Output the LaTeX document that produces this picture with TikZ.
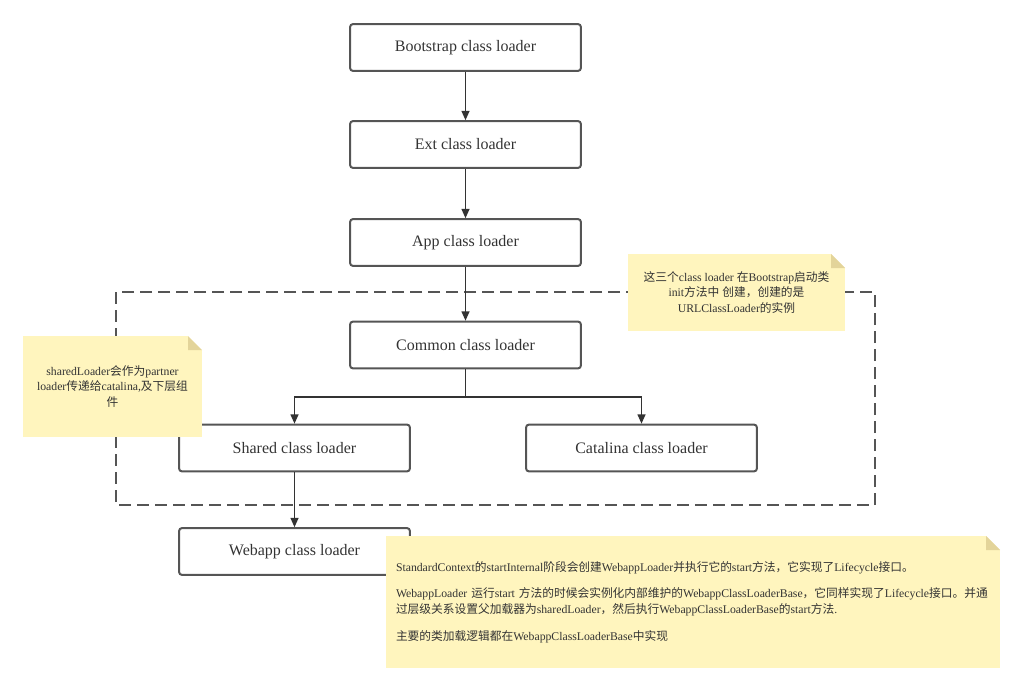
\documentclass[tikz,border=0pt]{standalone}
\usepackage{fontspec}
\setmainfont{Liberation Serif}
\newfontfamily\latin{Liberation Serif}
\newfontfamily\cjk{Noto Sans CJK SC}
\usepackage{tikz}
\usetikzlibrary{arrows.meta}

%% switch to the CJK font for Chinese characters
\XeTeXinterchartokenstate=1
\newXeTeXintercharclass\cjkcls
\count255="3000
\loop \XeTeXcharclass\count255=\cjkcls \ifnum\count255<"303F \advance\count255 by 1 \repeat
\count255="4E00
\loop \XeTeXcharclass\count255=\cjkcls \ifnum\count255<"9FFF \advance\count255 by 1 \repeat
\count255="FF00
\loop \XeTeXcharclass\count255=\cjkcls \ifnum\count255<"FFEF \advance\count255 by 1 \repeat
\XeTeXinterchartoks 0 \cjkcls = {\cjk}
\XeTeXinterchartoks 4095 \cjkcls = {\cjk}
\XeTeXinterchartoks \cjkcls 0 = {\latin}
\XeTeXinterchartoks \cjkcls 4095 = {\latin}

\definecolor{linegray}{HTML}{555555}
\definecolor{arrowgray}{HTML}{333333}
\definecolor{textgray}{HTML}{333333}
\definecolor{notebg}{HTML}{FFF5BE}
\definecolor{notefold}{HTML}{E3D49A}

\tikzstyle{loader} = [rectangle, draw=linegray, line width=1.5pt, rounded corners=2pt, minimum width=173pt, minimum height=35pt, text=textgray, font=\fontsize{12}{14}\selectfont]
\tikzstyle{link} = [draw=arrowgray, line width=1pt, -{Triangle[length=7pt,width=6pt]}]
\tikzstyle{group} = [draw=linegray, line width=1.5pt, dash pattern=on 9pt off 4.5pt]
\tikzstyle{note} = [rectangle, fill=notebg, inner sep=7.5pt, align=center, text=textgray, font=\fontsize{8.8}{11.5}\selectfont,
    path picture={
        \fill[white] ([xshift=-10.5pt]path picture bounding box.north east) -- (path picture bounding box.north east) -- ([yshift=-10.5pt]path picture bounding box.north east) -- cycle;
        \fill[notefold] ([xshift=-10.5pt]path picture bounding box.north east) -- ([xshift=-10.5pt,yshift=-10.5pt]path picture bounding box.north east) -- ([yshift=-10.5pt]path picture bounding box.north east) -- cycle;
    }]

\begin{document}
\begin{tikzpicture}[x=0.75pt, y=-0.75pt]

            \useasboundingbox (0,0) rectangle (1024,692);

            %% dashed group
            \draw [group] (116,292) rectangle (875,505);

            %% class loaders
            \node (boot) [loader] at (465.5,47.5) {Bootstrap class loader};
            \node (ext) [loader] at (465.5,144.5) {Ext class loader};
            \node (app) [loader] at (465.5,242.5) {App class loader};
            \node (common) [loader] at (465.5,345) {Common class loader};
            \node (shared) [loader] at (294.5,448) {Shared class loader};
            \node (catalina) [loader] at (641.5,448) {Catalina class loader};
            \node (webapp) [loader] at (294.5,551.5) {Webapp class loader};

            \coordinate (split) at (465.5,397);

            \draw [link] (boot) -- (ext);
            \draw [link] (ext) -- (app);
            \draw [link] (app) -- (common);
            \draw [link] (common) -- (split) -| (shared);
            \draw [link] (split) -| (catalina);
            \draw [link] (shared) -- (webapp);

            %% notes
            \node (note1) [note, minimum width=162.75pt, minimum height=57.75pt] at (736.5,292.5)
                {这三个class loader 在Bootstrap启动类\\init方法中 创建，创建的是\\URLClassLoader的实例};
            \node (note2) [note, minimum width=134.25pt, minimum height=75.75pt] at (112.5,386.5)
                {sharedLoader会作为partner\\loader传递给catalina,及下层组\\件};
            \node (note3) [note, minimum width=460.5pt, minimum height=99pt, inner sep=0pt, text width=445.5pt, align=left, font=\fontsize{8.8}{12}\selectfont] at (693,602)
                {StandardContext的startInternal阶段会创建WebappLoader并执行它的start方法，它实现了Lifecycle接口。\\[8pt]
                WebappLoader 运行start 方法的时候会实例化内部维护的WebappClassLoaderBase，它同样实现了Lifecycle接口。并通\\
                过层级关系设置父加载器为sharedLoader，然后执行WebappClassLoaderBase的start方法.\\[8pt]
                主要的类加载逻辑都在WebappClassLoaderBase中实现};

        \end{tikzpicture}
\end{document}
